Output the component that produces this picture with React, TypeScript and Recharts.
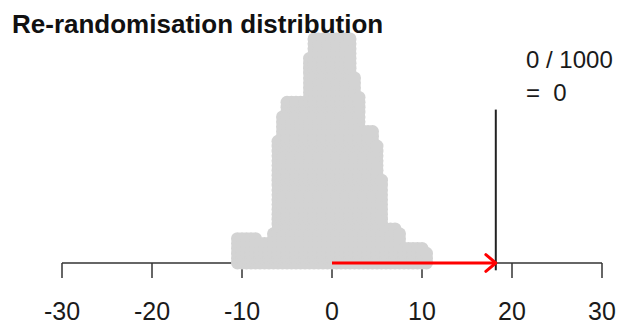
import React from 'react';
import { ScatterChart, Scatter, XAxis, YAxis, ReferenceLine } from 'recharts';

// Re-randomised differences (bin centres) and number of re-randomisations per bin
const binValues: number[] = [
  -10.5, -10, -9.5, -9, -8.5, -8, -7.5, -7, -6.5, -6, -5.5, -5, -4.5, -4, -3.5, -3, -2.5,
  -2, -1.5, -1, -0.5, 0, 0.5, 1, 1.5, 2,
  2.5, 3, 3.5, 4, 4.5, 5, 5.5, 6, 6.5, 7, 7.5, 8, 8.5, 9, 9.5, 10, 10.5,
];
const binCounts: number[] = [
  6, 6, 6, 6, 6, 5, 5, 5, 7, 26, 31, 34, 34, 34, 34, 34, 43,
  47, 47, 47, 47, 47, 47, 47, 47, 47,
  39, 35, 28, 28, 28, 25, 18, 8, 8, 8, 7, 4, 4, 4, 4, 4, 3,
];

const xTicks: number[] = [-30, -20, -10, 0, 10, 20, 30];
const NULL_VALUE = 0;
const OBSERVED = 18.2;
const OBS_LINE_BOTTOM = -1.5;
const OBS_LINE_TOP = 31.5;
const N_RERAND = 1000;
const N_EXTREME = 0;
const P_VALUE = 0;
const TITLE = 'Re-randomisation distribution';

// stacked dot-plot points built from the bins
const points: { x: number; y: number }[] = [];
binValues.forEach((v, i) => {
  for (let k = 0; k < binCounts[i]; k++) points.push({ x: v, y: k });
});

// arrow from the null value to the observed difference
const arrowPoints = [
  { x: NULL_VALUE, y: 0 },
  { x: OBSERVED, y: 0 },
];

const FONT = '"Liberation Sans", Arial, sans-serif';

const Dot = (p: any) => <circle cx={p.cx} cy={p.cy} r={6.5} fill="#D3D3D3" />;

const ArrowHead = (p: any) => {
  if (!p.payload || p.payload.x !== OBSERVED) return <g />;
  const { cx, cy } = p;
  const len = 13;
  const ang = (40 * Math.PI) / 180;
  const dx = len * Math.cos(ang);
  const dy = len * Math.sin(ang);
  return (
    <path
      d={`M${cx - dx},${cy - dy} L${cx},${cy} L${cx - dx},${cy + dy}`}
      fill="none"
      stroke="#FF0000"
      strokeWidth={3}
      strokeLinecap="round"
      strokeLinejoin="round"
    />
  );
};

export default function App() {
  return (
    <div style={{ position: 'absolute', left: 0, top: 0, width: 622, height: 325, background: '#fff' }}>
      <ScatterChart width={622} height={325} margin={{ top: 0, right: 20, bottom: 0, left: 62 }}>
        <XAxis
          type="number"
          dataKey="x"
          domain={[-30, 30]}
          ticks={xTicks}
          interval={0}
          height={62}
          tickSize={15}
          tickMargin={24}
          axisLine={{ stroke: '#333', strokeWidth: 1.5 }}
          tickLine={{ stroke: '#333', strokeWidth: 1.5 }}
          tick={{ fill: '#1a1a1a', fontSize: 25, fontFamily: FONT }}
        />
        <YAxis type="number" dataKey="y" domain={[0, 54]} hide />
        <ReferenceLine
          segment={[
            { x: OBSERVED, y: OBS_LINE_BOTTOM },
            { x: OBSERVED, y: OBS_LINE_TOP },
          ]}
          ifOverflow="visible"
          stroke="#222"
          strokeWidth={2}
        />
        <Scatter data={points} shape={Dot} isAnimationActive={false} />
        <Scatter
          data={arrowPoints}
          line={{ stroke: '#FF0000', strokeWidth: 3 }}
          shape={ArrowHead}
          isAnimationActive={false}
        />
      </ScatterChart>
      <div
        style={{
          position: 'absolute',
          left: 12,
          top: 11,
          fontFamily: FONT,
          fontWeight: 'bold',
          fontSize: 26,
          lineHeight: 1,
          color: '#111',
          whiteSpace: 'nowrap',
        }}
      >
        {TITLE}
      </div>
      <div
        style={{
          position: 'absolute',
          left: 526,
          top: 43,
          fontFamily: FONT,
          fontSize: 24,
          lineHeight: '33px',
          color: '#1a1a1a',
          whiteSpace: 'pre',
        }}
      >
        {`${N_EXTREME} / ${N_RERAND}\n=  ${P_VALUE}`}
      </div>
    </div>
  );
}
